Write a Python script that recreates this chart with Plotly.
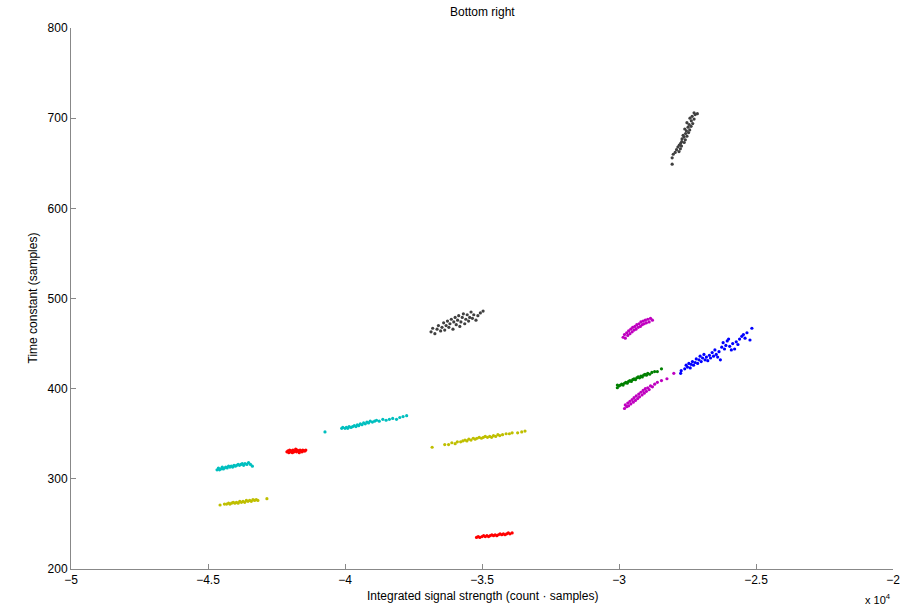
import plotly.graph_objects as go

# x values in units of 10^4 counts*samples, y in samples
k_top_x = [-2.806,-2.806,-2.802,-2.795,-2.781,-2.790,-2.776,-2.785,-2.772,-2.780,-2.775,-2.762,-2.771,-2.758,-2.770,-2.763,-2.752,-2.766,-2.757,-2.746,-2.754,-2.742,-2.760,-2.748,-2.737,-2.744,-2.731,-2.752,-2.736,-2.726,-2.741,-2.733,-2.722,-2.714,-2.726]
k_top_y = [649,656,660,662,663,665,666,668,669,670,672,673,674,676,677,679,680,681,683,684,686,687,688,690,691,693,694,695,697,699,700,702,704,705,706]

k_mid_x = [-3.686,-3.680,-3.672,-3.664,-3.659,-3.651,-3.646,-3.640,-3.636,-3.631,-3.626,-3.621,-3.617,-3.612,-3.606,-3.603,-3.598,-3.594,-3.589,-3.585,-3.581,-3.577,-3.572,-3.568,-3.563,-3.559,-3.554,-3.549,-3.545,-3.540,-3.535,-3.530,-3.522,-3.515,-3.506,-3.496]
k_mid_y = [463,467,461,466,470,464,468,473,465,470,475,468,472,477,466,474,479,471,476,481,469,474,479,483,472,477,482,475,479,485,478,482,476,481,484,486]

m_up_x = [-2.985,-2.980,-2.977,-2.972,-2.968,-2.965,-2.960,-2.957,-2.952,-2.950,-2.945,-2.942,-2.938,-2.935,-2.930,-2.927,-2.922,-2.920,-2.915,-2.912,-2.908,-2.904,-2.900,-2.895,-2.890,-2.885,-2.878]
m_up_y = [457,460,456,462,459,464,461,466,463,468,465,469,466,471,468,472,469,474,471,475,472,476,473,477,474,478,476]

g_x = [-3.006,-3.006,-3.000,-2.995,-2.990,-2.985,-2.980,-2.975,-2.970,-2.965,-2.960,-2.955,-2.950,-2.945,-2.940,-2.935,-2.930,-2.925,-2.920,-2.915,-2.910,-2.905,-2.900,-2.895,-2.888,-2.880,-2.870,-2.860,-2.845]
g_y = [401,404,403,404,405,404,406,407,406,408,409,408,410,411,410,412,413,412,414,413,415,416,415,417,416,418,419,419,422]

m_lo_x = [-2.980,-2.977,-2.972,-2.968,-2.965,-2.960,-2.957,-2.952,-2.948,-2.945,-2.940,-2.937,-2.932,-2.928,-2.925,-2.920,-2.916,-2.912,-2.908,-2.904,-2.900,-2.895,-2.890,-2.885,-2.878,-2.870,-2.860,-2.845,-2.825,-2.800]
m_lo_y = [378,382,380,384,381,386,383,388,385,390,387,392,389,394,391,396,393,398,395,400,397,401,399,403,402,405,407,409,411,417]

b_x = [-2.775,-2.773,-2.760,-2.755,-2.750,-2.745,-2.740,-2.737,-2.732,-2.728,-2.722,-2.718,-2.713,-2.708,-2.704,-2.700,-2.695,-2.690,-2.686,-2.681,-2.676,-2.670,-2.666,-2.660,-2.655,-2.650,-2.645,-2.640,-2.635,-2.630,-2.625,-2.620,-2.615,-2.610,-2.605,-2.600,-2.596,-2.590,-2.585,-2.578,-2.572,-2.566,-2.560,-2.552,-2.546,-2.540,-2.533,-2.522,-2.515]
b_y = [417,420,422,426,424,428,423,427,430,426,429,433,428,432,436,430,434,438,432,435,431,437,434,440,436,443,438,435,441,432,446,451,444,448,453,455,447,443,450,444,452,449,455,458,460,456,462,454,467]

c_left_x = [-4.467,-4.462,-4.458,-4.453,-4.448,-4.444,-4.440,-4.435,-4.430,-4.425,-4.420,-4.415,-4.410,-4.405,-4.400,-4.395,-4.390,-4.385,-4.380,-4.375,-4.370,-4.365,-4.358,-4.352,-4.345,-4.338]
c_left_y = [310,312,310,311,313,311,312,313,312,314,313,314,313,315,314,315,316,315,316,317,315,317,316,318,316,314]

c_mid_x = [-4.073,-4.012,-4.008,-4.000,-3.995,-3.990,-3.985,-3.978,-3.972,-3.966,-3.960,-3.955,-3.950,-3.944,-3.938,-3.932,-3.926,-3.920,-3.914,-3.908,-3.900,-3.892,-3.885,-3.875,-3.862,-3.850,-3.838,-3.826,-3.812,-3.800,-3.788,-3.775]
c_mid_y = [352,356,357,356,357,356,358,357,358,359,358,360,359,361,360,362,361,363,362,364,363,364,365,364,366,365,366,367,366,368,369,370]

r_small_x = [-4.212,-4.208,-4.205,-4.202,-4.198,-4.195,-4.192,-4.190,-4.186,-4.183,-4.180,-4.177,-4.174,-4.170,-4.167,-4.164,-4.160,-4.157,-4.154,-4.150,-4.146,-4.143]
r_small_y = [330,331,329,332,330,331,329,332,330,331,333,330,332,331,329,332,331,330,332,331,331,332]

y_left_x = [-4.456,-4.440,-4.432,-4.425,-4.420,-4.414,-4.408,-4.402,-4.396,-4.390,-4.384,-4.378,-4.372,-4.366,-4.360,-4.354,-4.348,-4.342,-4.336,-4.330,-4.324,-4.318,-4.285]
y_left_y = [271,272,272,273,272,273,274,273,274,273,275,274,275,274,276,275,276,275,277,276,277,276,278]

y_mid_x = [-3.682,-3.636,-3.622,-3.610,-3.598,-3.590,-3.578,-3.570,-3.562,-3.555,-3.548,-3.540,-3.532,-3.525,-3.518,-3.510,-3.502,-3.495,-3.488,-3.480,-3.472,-3.465,-3.458,-3.450,-3.442,-3.435,-3.425,-3.412,-3.400,-3.390,-3.370,-3.355,-3.343]
y_mid_y = [335,338,338,340,339,341,341,342,343,342,344,343,345,344,345,346,345,346,347,346,347,346,348,347,349,348,349,350,350,351,351,352,353]

r_bot_x = [-3.520,-3.514,-3.508,-3.500,-3.494,-3.488,-3.482,-3.476,-3.470,-3.464,-3.458,-3.452,-3.446,-3.440,-3.434,-3.428,-3.422,-3.416,-3.410,-3.404,-3.398,-3.390]
r_bot_y = [235,236,235,236,237,236,237,236,237,238,237,238,237,238,239,238,239,238,239,240,239,240]

x_ticks = [-5, -4.5, -4, -3.5, -3, -2.5, -2]
y_ticks = [200, 300, 400, 500, 600, 700, 800]

series = [
    (k_top_x, k_top_y, '#404040'),
    (k_mid_x, k_mid_y, '#404040'),
    (m_up_x, m_up_y, '#BF00BF'),
    (g_x, g_y, '#008000'),
    (m_lo_x, m_lo_y, '#BF00BF'),
    (b_x, b_y, '#0000FF'),
    (c_left_x, c_left_y, '#00BFBF'),
    (c_mid_x, c_mid_y, '#00BFBF'),
    (r_small_x, r_small_y, '#FF0000'),
    (y_left_x, y_left_y, '#BFBF00'),
    (y_mid_x, y_mid_y, '#BFBF00'),
    (r_bot_x, r_bot_y, '#FF0000'),
]

fig = go.Figure()
for xs, ys, col in series:
    fig.add_trace(go.Scatter(x=xs, y=ys, mode='markers',
                             marker=dict(color=col, size=3.2, line=dict(width=0)),
                             showlegend=False, hoverinfo='skip'))

axis_common = dict(showgrid=False, zeroline=False, showline=True, linecolor='#888888',
                   linewidth=1, ticks='inside', ticklen=5, tickcolor='#888888',
                   tickfont=dict(family='Liberation Sans, Arial', size=12, color='#000000'))

fig.update_xaxes(range=[-5, -2], tickvals=x_ticks, **axis_common)
fig.update_yaxes(range=[200, 800], tickvals=y_ticks, **axis_common)

fig.update_layout(
    width=915, height=608,
    margin=dict(l=71, r=22, t=28, b=39),
    plot_bgcolor='white', paper_bgcolor='white',
    font=dict(family='Liberation Sans, Arial', size=12, color='#000000'),
    annotations=[
        dict(text='Bottom right', xref='paper', yref='paper', x=0.5, y=1, yshift=16,
             xanchor='center', yanchor='middle', showarrow=False, font=dict(size=12)),
        dict(text='Integrated signal strength (count · samples)', xref='paper', yref='paper',
             x=0.5, y=0, yshift=-27, xanchor='center', yanchor='middle', showarrow=False,
             font=dict(size=12)),
        dict(text='Time constant (samples)', xref='paper', yref='paper', x=0, xshift=-39,
             y=0.5, xanchor='center', yanchor='middle', textangle=-90, showarrow=False,
             font=dict(size=12)),
        dict(text='x 10<sup>4</sup>', xref='paper', yref='paper', x=1, y=0, yshift=-30,
             xanchor='right', yanchor='middle', showarrow=False, font=dict(size=11)),
    ],
)

# remove the default 8px body margin so the figure fills the window exactly
fig.write_html('out.html', config={'displayModeBar': False},
               post_script="document.body.style.margin='0px';document.body.style.overflow='hidden';")
